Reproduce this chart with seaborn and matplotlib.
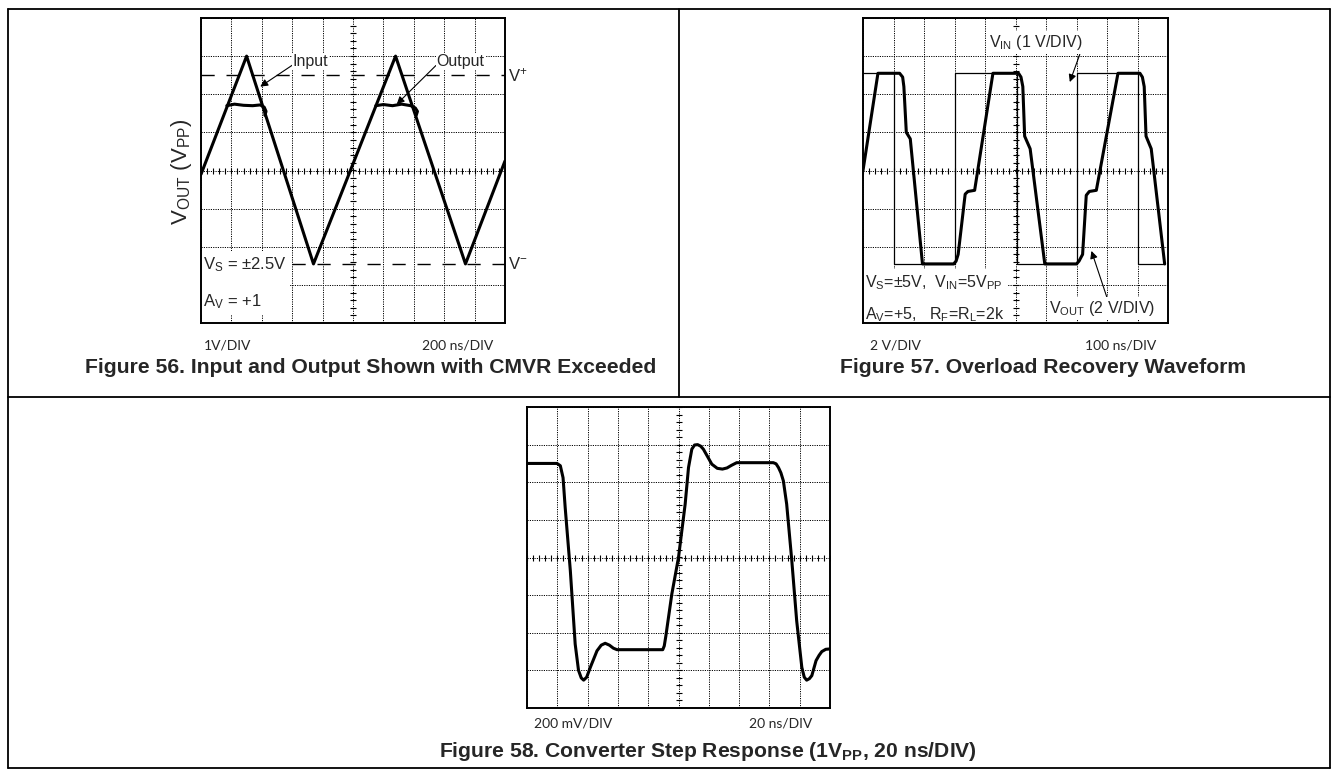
import numpy as np
import pandas as pd
import matplotlib
matplotlib.use("Agg")
import matplotlib.pyplot as plt
import seaborn as sns
from matplotlib.lines import Line2D

# Figure 56: triangle input and clipped output (scope divisions)
tri_x = [0, 1.5, 3.7, 6.4, 8.7, 10]
tri_y = [-0.1, 3.0, -2.45, 3.0, -2.45, 0.25]
clip1_x = [0.85, 1.1, 1.4, 1.7, 1.95, 2.08, 2.14, 2.1]
clip1_y = [1.70, 1.74, 1.71, 1.70, 1.72, 1.66, 1.55, 1.45]
clip2_x = [5.75, 6.0, 6.3, 6.6, 6.9, 7.05, 7.12, 7.08]
clip2_y = [1.70, 1.73, 1.70, 1.74, 1.70, 1.64, 1.55, 1.45]
rail_hi = 2.5
rail_lo = -2.45

# Figure 57: overload recovery
vin_x = [0, 1, 1, 3, 3, 5.05, 5.05, 7, 7, 9, 9, 9.9]
vin_y = [2.55, 2.55, -2.45, -2.45, 2.55, 2.55, -2.45, -2.45, 2.55, 2.55, -2.45, -2.45]
vout_x = [0, 0.49, 1.2, 1.3, 1.34, 1.42, 1.55, 1.95, 2.97, 3.05, 3.12, 3.35, 3.44, 3.66,
          4.26, 5.1, 5.18, 5.24, 5.3, 5.48, 5.96, 7.0, 7.08, 7.2, 7.32, 7.42, 7.65, 8.36,
          9.08, 9.16, 9.22, 9.28, 9.45, 9.89]
vout_y = [0, 2.55, 2.55, 2.45, 2.2, 1.0, 0.83, -2.45, -2.45, -2.38, -2.2, -0.62, -0.55, -0.52,
          2.55, 2.55, 2.45, 2.2, 0.9, 0.57, -2.45, -2.45, -2.38, -2.2, -0.65, -0.55, -0.52, 2.55,
          2.55, 2.45, 2.2, 0.9, 0.57, -2.45]

# Figure 58: converter step response
step_x = [0, 0.99, 1.1, 1.19, 1.26, 1.43, 1.59, 1.70, 1.79, 1.87, 1.97, 2.09, 2.31, 2.45,
          2.58, 2.72, 2.85, 2.97, 4.48, 4.53, 4.58, 4.78, 5.0, 5.22, 5.33, 5.44, 5.53, 5.63,
          5.73, 5.82, 5.96, 6.1, 6.28, 6.45, 6.6, 6.75, 6.92, 8.13, 8.22, 8.3, 8.38, 8.46,
          8.57, 8.74, 8.9, 9.07, 9.15, 9.23, 9.32, 9.4, 9.54, 9.64, 9.73, 9.86, 10]
step_y = [2.5, 2.5, 2.44, 2.12, 1.33, -0.35, -2.3, -3.0, -3.2, -3.26, -3.18, -2.92, -2.48, -2.33,
          -2.28, -2.33, -2.41, -2.45, -2.45, -2.35, -2.1, -0.97, 0.0, 1.42, 2.39, 2.88, 2.99, 3.0,
          2.96, 2.88, 2.68, 2.48, 2.37, 2.35, 2.38, 2.45, 2.52, 2.52, 2.49, 2.39, 2.25, 2.04,
          1.42, -0.09, -1.68, -2.92, -3.18, -3.26, -3.22, -3.14, -2.74, -2.6, -2.5, -2.44, -2.43]

W, H = 1338, 776

sns.set_theme(style="white")
plt.rcParams["font.family"] = ["Liberation Sans", "DejaVu Sans"]
plt.rcParams["mathtext.fontset"] = "custom"
plt.rcParams["mathtext.rm"] = "Liberation Sans"
plt.rcParams["mathtext.it"] = "Liberation Sans:italic"
plt.rcParams["mathtext.bf"] = "Liberation Sans:bold"

fig = plt.figure(figsize=(W / 100, H / 100), dpi=100)


def px_rect(x0, y0, x1, y1):
    return [x0 / W, 1 - y1 / H, (x1 - x0) / W, (y1 - y0) / H]


def scope_axes(x0, y0, x1, y1):
    ax = fig.add_axes(px_rect(x0, y0, x1, y1))
    ax.set_xlim(0, 10)
    ax.set_ylim(-4, 4)
    ax.set_xticks(range(11))
    ax.set_yticks(range(-4, 5))
    ax.tick_params(length=0, labelbottom=False, labelleft=False)
    ax.set_axisbelow(True)
    ax.grid(True, color="black", ls=(0, (1.2, 1.2)), lw=0.7)
    for s in ax.spines.values():
        s.set_color("black")
        s.set_linewidth(1.4)
    # center graticule ticks
    hx = np.arange(0, 10.01, 0.2)
    vy = np.arange(-4, 4.01, 0.2)
    ax.plot(hx, np.zeros_like(hx), ls="none", marker="|", ms=5, mew=0.8, color="black", zorder=2)
    ax.plot(np.full_like(vy, 5), vy, ls="none", marker="_", ms=5, mew=0.8, color="black", zorder=2)
    return ax


def trace(ax, xs, ys, lw):
    df = pd.DataFrame({"t": xs, "v": ys})
    sns.lineplot(data=df, x="t", y="v", sort=False, estimator=None, color="black",
                 lw=lw, ax=ax, zorder=4)
    ax.set_xlabel("")
    ax.set_ylabel("")


def white(pad=1.5):
    return dict(fc="white", ec="none", pad=pad)


arrow = dict(arrowstyle="-|>", color="black", lw=0.8, mutation_scale=11, shrinkA=0, shrinkB=0)
FS = 11.5
TITLE_FS = 15.2
LBL_FS = 10

# ---------- Figure 56 ----------
ax1 = scope_axes(201, 18, 505, 323)
ax1.hlines(rail_hi, 0, 10, color="black", lw=1.0, linestyles=(0, (9.5, 8.5)), zorder=1.5)
ax1.hlines(rail_lo, 3.0, 10, color="black", lw=1.0, linestyles=(0, (9.5, 8.5)), zorder=1.5)
trace(ax1, tri_x, tri_y, 2.2)
trace(ax1, clip1_x, clip1_y, 2.2)
trace(ax1, clip2_x, clip2_y, 2.2)
ax1.text(0.05, -2.95, "V$_{\\mathrm{S}}$ = ±2.5V\nA$_{\\mathrm{V}}$ = +1", fontsize=12,
         va="center", linespacing=2.35, bbox=white(3), zorder=2.3)
ax1.annotate("Input", xy=(1.95, 2.2), xytext=(3.02, 2.85), fontsize=FS, va="center",
             arrowprops=dict(arrow, relpos=(0.0, 0.3)), bbox=white(0.5), zorder=2.3)
ax1.annotate("Output", xy=(6.44, 1.74), xytext=(7.75, 2.85), fontsize=FS, va="center",
             arrowprops=dict(arrow, relpos=(0.0, 0.3)), bbox=white(0.5), zorder=2.3)
ax1.text(10.1, rail_hi, "V$^{+}$", fontsize=12, va="center", clip_on=False)
ax1.text(10.1, rail_lo, "V$^{-}$", fontsize=12, va="center", clip_on=False)
fig.text(181 / W, 1 - 172 / H, "V$_{\\mathrm{OUT}}$ (V$_{\\mathrm{PP}}$)", rotation=90,
         fontsize=16, ha="center", va="center")
fig.text(228 / W, 1 - 345 / H, "1V/DIV", family="Lato", fontsize=LBL_FS, ha="center", va="center")
fig.text(458 / W, 1 - 345 / H, "200 ns/DIV", family="Lato", fontsize=LBL_FS, ha="center", va="center")
fig.text(371 / W, 1 - 373 / H, "Figure 56. Input and Output Shown with CMVR Exceeded",
         fontsize=TITLE_FS, fontweight="bold", ha="center", va="baseline")

# ---------- Figure 57 ----------
ax2 = scope_axes(863, 18, 1168, 323)
trace(ax2, vin_x, vin_y, 0.9)
trace(ax2, vout_x, vout_y, 2.2)
ax2.annotate("V$_{\\mathrm{IN}}$ (1 V/DIV)", xy=(6.78, 2.32), xytext=(4.12, 3.35), fontsize=FS,
             va="center", arrowprops=dict(arrow, relpos=(0.98, 0.0)), bbox=white(1.5), zorder=2.3)
ax2.annotate("V$_{\\mathrm{OUT}}$ (2 V/DIV)", xy=(7.49, -2.11), xytext=(6.1, -3.62), fontsize=FS,
             va="center", arrowprops=dict(arrow, relpos=(0.55, 1.0)), bbox=white(1.5), zorder=2.3)
ax2.text(0.06, -3.36,
         "V$_{\\mathrm{S}}$=±5V,  V$_{\\mathrm{IN}}$=5V$_{\\mathrm{PP}}$\n"
         "A$_{\\mathrm{V}}$=+5,   R$_{\\mathrm{F}}$=R$_{\\mathrm{L}}$=2k",
         fontsize=FS, va="center", linespacing=1.95, bbox=white(3), zorder=2.3)
fig.text(895 / W, 1 - 345 / H, "2 V/DIV", family="Lato", fontsize=LBL_FS, ha="center", va="center")
fig.text(1121 / W, 1 - 345 / H, "100 ns/DIV", family="Lato", fontsize=LBL_FS, ha="center", va="center")
fig.text(1043 / W, 1 - 373 / H, "Figure 57. Overload Recovery Waveform",
         fontsize=TITLE_FS, fontweight="bold", ha="center", va="baseline")

# ---------- Figure 58 ----------
ax3 = scope_axes(527, 407, 830, 708)
trace(ax3, step_x, step_y, 2.2)
fig.text(573 / W, 1 - 723 / H, "200 mV/DIV", family="Lato", fontsize=LBL_FS, ha="center", va="center")
fig.text(781 / W, 1 - 723 / H, "20 ns/DIV", family="Lato", fontsize=LBL_FS, ha="center", va="center")
fig.text(708 / W, 1 - 757 / H, "Figure 58. Converter Step Response (1V$_{\\mathbf{PP}}$, 20 ns/DIV)",
         fontsize=TITLE_FS, fontweight="bold", ha="center", va="baseline")

# ---------- table borders ----------
bx0, by0, bx1, by1 = 8, 9, 1330, 768
mid_x, mid_y = 679, 397


def fig_line(xa, ya, xb, yb):
    fig.add_artist(Line2D([xa / W, xb / W], [1 - ya / H, 1 - yb / H], color="black", lw=1.3,
                          transform=fig.transFigure))


fig_line(bx0, by0, bx1, by0)
fig_line(bx0, by1, bx1, by1)
fig_line(bx0, by0, bx0, by1)
fig_line(bx1, by0, bx1, by1)
fig_line(bx0, mid_y, bx1, mid_y)
fig_line(mid_x, by0, mid_x, mid_y)

fig.savefig("out.png", dpi=100)
